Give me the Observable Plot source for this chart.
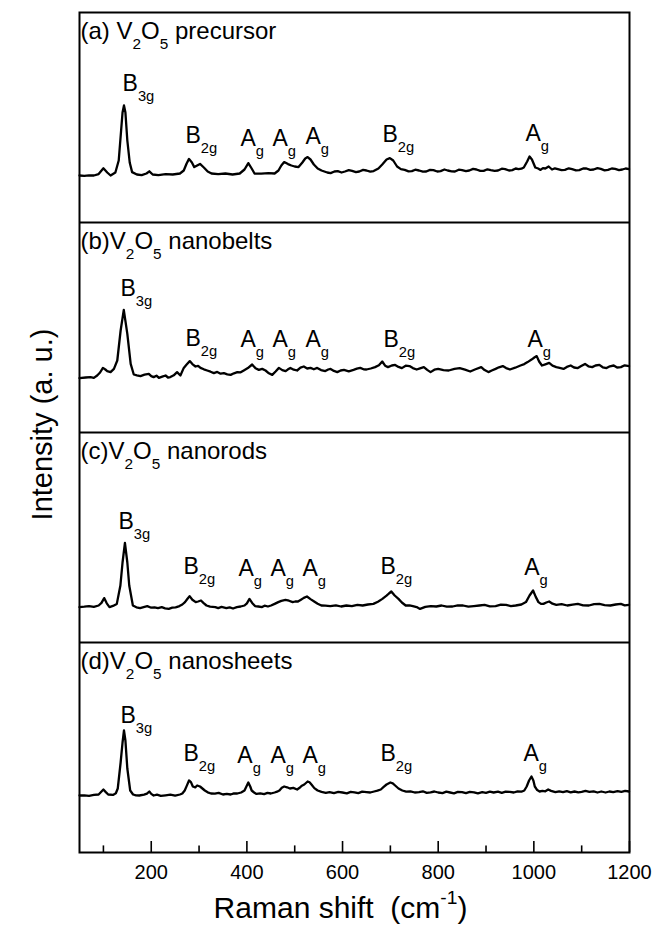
<!DOCTYPE html>
<html><head><meta charset="utf-8">
<script src="https://cdn.jsdelivr.net/npm/d3@7"></script>
<script src="https://cdn.jsdelivr.net/npm/@observablehq/plot@0.6"></script>
<style>body{margin:0;background:#fff}</style>
</head><body><div id="chart"></div>
<script>
// Raman shift (cm-1), intensity (a.u., within-panel units)
const precursor = [[50,23.5],[60,23.3],[70,23.6],[80,23.5],[90,24.2],[100,27.1],[108,25],[115,23.5],[125,25],[132,31],[137,46],[140,55],[143,58.5],[146,55],[150,41],[155,30],[160,25.2],[170,24],[180,23.7],[190,24.5],[196,25.6],[203,24],[215,23.7],[230,24.2],[245,24],[260,24.5],[268,26],[274,29.5],[279,31.8],[285,30],[290,27.7],[296,28.5],[302,29.3],[310,27.5],[318,25.5],[326,24.5],[340,24.2],[355,24.5],[370,24],[385,24.5],[395,26.5],[403,29.7],[410,27],[416,24.5],[430,24.4],[445,24.7],[458,24.5],[466,26],[472,28.5],[478,30.2],[486,29.2],[493,28.5],[500,28],[508,27.7],[516,30],[522,32],[527,32.7],[533,31.5],[540,29],[548,27],[556,26],[568,25],[575,24.7],[583,25.5],[590,25.7],[598,25],[605,25.5],[613,26.2],[620,25.8],[628,25.2],[635,25.5],[643,26.3],[650,26],[658,25.4],[665,25.7],[675,27],[683,29],[692,31.5],[699,32.2],[706,31],[714,28],[722,26.7],[730,26.3],[738,25.6],[745,25.7],[752,26.4],[760,26],[768,25.4],[775,25.5],[783,26.3],[790,26.2],[798,25.5],[805,25.7],[813,26.5],[820,26],[828,25.6],[835,25.5],[843,26.4],[850,26.2],[858,25.7],[865,26],[873,26.8],[880,26.5],[888,25.8],[895,25.8],[903,26.6],[910,26.2],[918,25.8],[925,26],[933,26.9],[940,26.7],[948,26],[955,26.2],[962,27],[968,26.7],[974,26.9],[979,27.5],[986,30.5],[991,33],[996,31.5],[1003,27.5],[1009,27],[1014,26.3],[1019,27.2],[1024,27],[1031,28],[1038,26.5],[1044,27.1],[1050,26.7],[1058,26.2],[1065,26.3],[1073,27.1],[1080,26.7],[1088,26.1],[1095,26.2],[1103,27],[1110,27],[1118,26.3],[1125,26.5],[1133,27.2],[1140,26.8],[1148,26.1],[1155,26.3],[1163,27],[1170,26.8],[1178,26.2],[1185,26.5],[1192,27],[1199,26.7]];
const nanobelts = [[50,27.2],[63,27.5],[73,27.7],[80,27.3],[87,28.5],[93,30],[99,32.3],[104,31.5],[108,30.7],[115,30.2],[122,31.8],[129,36],[136,51],[142.6,61.3],[150,49.3],[157,34.3],[163.5,29],[170,28.6],[177.5,28.2],[186,28.9],[195,29.3],[200,28.2],[205,27.7],[211,28.4],[216,27.3],[223,27.9],[230,28.5],[235,27.5],[240,27.7],[247,28.6],[254,30.2],[261,28.5],[268,32.3],[274,34],[280.6,35.7],[286,34.2],[292.5,33],[298,33.3],[303,32.3],[310,31.6],[317,31],[324,30.4],[331,29.7],[338,30.3],[345,29.4],[352,29.7],[359,29.1],[366,28.8],[373,29.6],[380,30.2],[387,30.1],[393.5,31],[402,32.2],[411,34],[418,32.1],[425,31.3],[432,31.8],[439,31],[446,29.6],[453,28.8],[460,30.5],[467,32.3],[474,31.2],[481,30.7],[486,31.6],[491,32.3],[498,31.4],[505,31],[512,32.4],[519,33],[526,32],[533,32.3],[540,31.6],[547,32.3],[555,31.2],[564,30.7],[570,31.5],[575,31.8],[582,30.8],[589,30.2],[596,31],[603,31.3],[613,30.6],[623,31.3],[630,31.9],[637,32.3],[644,31.6],[650,31.5],[659,32],[668,32.7],[676,33.6],[683,35.5],[689,33.4],[695,32.7],[703,33.5],[710,33.8],[717,32.8],[724,32.2],[732,33.4],[740,33.2],[747,32.2],[755,31.5],[762,32.1],[770,32.7],[777,31.3],[784,30.2],[792,31.4],[800,31.8],[811,31.2],[822,31],[834,31.8],[845,32.2],[856,31.4],[867,30.5],[878,31.6],[890,32.7],[897,31.2],[905,30.2],[912,31],[920,31.8],[927,32.6],[935,33.2],[942,32.2],[950,31.5],[961,32.4],[972,33.5],[980,34.2],[987,35.2],[996,36.6],[1001,37.5],[1006,38.2],[1011,35.5],[1017,33.5],[1024,34.1],[1032,34.8],[1039,33.4],[1047,32.7],[1054,32.3],[1062,31.8],[1069,32.8],[1077,33.5],[1084,32.5],[1092,32.2],[1099,33.2],[1107,34.3],[1114,33.1],[1122,32.7],[1129,33.5],[1137,33.8],[1144,32.6],[1152,32.2],[1159,33.1],[1167,33.5],[1174,32.5],[1182,32.7],[1190,33.6],[1199,33.2]];
const nanorods = [[50,17.7],[60,17.9],[70,18.2],[80,17.8],[90,18.5],[96,19.8],[101.6,22.2],[107,19.6],[112.7,17.7],[120,18.3],[128,19.3],[135.5,28.5],[140,40],[145,49.8],[150,40],[154,28.5],[161.6,18.5],[169,17.6],[176.7,17.2],[184,17.7],[191.7,18.2],[200,17.4],[207,17.6],[214,17.2],[222,17.7],[229,17.1],[236.7,16.8],[244,17.4],[251,17.6],[259,18.2],[265,19],[270.6,20.2],[275,21.6],[280.2,23.2],[286,21.4],[293,20.2],[298,20.5],[304,21],[309,19.8],[315.5,18.5],[323,17.9],[334,17.7],[340,17.2],[347,17.8],[357,17.2],[364,17.6],[371,17],[379,17.7],[387,18],[395,18.5],[400,19.6],[405.4,21.8],[411,19.8],[417,18.2],[424,18],[431.7,17.7],[437,18.4],[444,18],[450.5,18.5],[458,19.3],[465.6,20.2],[472,20.8],[480.7,21.3],[488,20.9],[495.7,20.2],[501,20.5],[506.8,20.5],[513,21.4],[519,22.3],[525.6,23],[533,21.7],[540.7,20.5],[548,19.4],[555.8,18.5],[564,18.4],[574.4,18.2],[586,18.6],[597,18],[608,18.5],[619.5,18.2],[631,18.8],[642,18.5],[653,19],[664.5,19.3],[674,20.4],[683.3,21.8],[692,23.4],[697,24.5],[702,25.5],[709,23.5],[717,21.8],[724,20],[732,18.5],[740,18.6],[747,18.2],[755,17.7],[762,16.8],[773,17.8],[784.5,18.2],[796,18],[807,18.5],[818,17.9],[830,18],[841,18.6],[852,18.5],[863,17.9],[874.5,18.2],[886,18.5],[897,18.8],[908,18.1],[920,18.2],[931,18.9],[942,18.8],[952,18.2],[962,18.5],[974,19],[983.5,20.2],[991,23.5],[998.4,26],[1004,22.8],[1009.6,20.2],[1015,19.3],[1020,19.3],[1026,20],[1032,20.5],[1039,19.4],[1047,18.8],[1058,19.2],[1070,18.5],[1081,18.9],[1092,19.3],[1103,18.6],[1115,18.5],[1126,19.2],[1137,19.3],[1148,18.7],[1160,18.5],[1171,19],[1182,19.3],[1190,18.6],[1199,18.8]];
const nanosheets = [[50,28.5],[60,28.6],[70,28.3],[80,28.8],[90,29],[96,30.5],[100,31.5],[105,30.2],[110,29],[120,28.8],[126,29.6],[130,32],[136,45],[140,55],[143,61],[146,56],[150,42],[156,31],[162,29],[168,28.6],[175,28.5],[185,28.9],[191,29.4],[196,30.5],[200,29.3],[205,28.5],[212,28.9],[220,28.3],[230,28.6],[240,28.9],[250,28.4],[260,29],[265,29.5],[270,31],[274,33.2],[279,36],[283,35.2],[287,33],[292,32.6],[296,33.5],[302,33],[307,32],[312,31],[318,30.1],[325,29.5],[333,29.4],[341,29.8],[350,29],[358,29.3],[366,29],[373,29.6],[380,29.5],[388,30],[395,31],[399,33],[403,35],[407,33],[410,31],[415,30],[420,29.3],[428,29.6],[436,29.2],[443,29.8],[450,29.5],[458,30],[463,30.4],[468,31],[473,32.4],[478,33],[484,32.6],[490,32],[497,32.3],[505,31.5],[511,32.5],[515,33.4],[520,34],[527,35.5],[531,35.1],[535,34],[541,32.2],[548,31],[556,30.3],[565,29.8],[573,30.2],[582,29.7],[591,30.3],[600,30],[609,29.6],[617,30.3],[625,30.1],[633,29.7],[641,30.4],[650,30.2],[658,30],[666,30.5],[673,30.9],[680,31.5],[686,32.8],[692,34],[700,35],[705,34.6],[710,33.5],[717,32],[725,31],[733,30.4],[742,30.6],[751,30],[760,30.2],[768,30.6],[776,29.8],[784,30.1],[792,30.5],[800,30],[809,29.7],[817,30.4],[825,30],[833,29.6],[841,30.3],[850,30.2],[858,29.7],[866,30.3],[875,30.1],[883,29.6],[892,30.2],[900,29.8],[908,30.4],[916,30],[925,30.4],[933,29.8],[941,30.4],[950,30.3],[958,30],[966,30.6],[974,30.4],[980,31],[985,33],[990,36],[995,38],[999,36],[1002,33],[1007,31.2],[1012,30.5],[1018,30.8],[1024,30.6],[1030,31.5],[1036,30.8],[1045,30.2],[1053,30.6],[1061,30.2],[1069,30.7],[1077,30.1],[1085,30.5],[1093,30.1],[1100,30.3],[1108,30.8],[1116,30.3],[1125,30.6],[1133,30],[1141,30.5],[1150,30],[1158,30.5],[1166,30.2],[1175,30.7],[1183,30.3],[1191,30.8],[1199,30.5]];

const panels = ["a", "b", "c", "d"];
const series = [precursor, nanobelts, nanorods, nanosheets];
const titles = ["(a) V_{2}O_{5} precursor", "(b)V_{2}O_{5} nanobelts", "(c)V_{2}O_{5} nanorods", "(d)V_{2}O_{5} nanosheets"];
const modeNames = ["B_{3g}", "B_{2g}", "A_{g}", "A_{g}", "A_{g}", "B_{2g}", "A_{g}"];
// label anchor positions (Raman shift, intensity) per panel
const labelShift = [
  [140, 271.6, 386.6, 453.5, 522.5, 683.5, 982.5],
  [135.7, 271.6, 386.6, 453.5, 522.5, 685.6, 986.7],
  [131.5, 267.4, 382.4, 449.3, 516.2, 679.3, 979.8],
  [135.7, 267.4, 380, 449.3, 516.2, 679.3, 978.3]
];
const labelIntensity = [
  [66, 40, 38.5, 38.5, 39.3, 40.2, 41],
  [68.5, 43.5, 42.7, 42.7, 42.7, 43, 43],
  [57, 34.5, 33.5, 33.5, 33.5, 34.5, 34],
  [65, 46, 45, 45, 45, 46, 46]
];
const majorTicks = [200, 400, 600, 800, 1000, 1200];
const minorTicks = [100, 300, 500, 700, 900, 1100];

const PANEL = 105; // intensity span of one panel
const offset = i => (panels.length - 1 - i) * PANEL;

const lineData = series.flatMap((s, i) => s.map(([x, y]) => ({panel: panels[i], x, y: y + offset(i)})));
const labelData = labelShift.flatMap((row, i) => row.map((x, j) => ({x, y: labelIntensity[i][j] + offset(i), text: modeNames[j]})));
const titleData = titles.map((t, i) => ({text: t, x: 50, y: offset(i) + PANEL - 13}));
const separators = [1, 2, 3].map(k => k * PANEL);

const font = "'Liberation Sans', Arial, Helvetica, sans-serif";

const chart = Plot.plot({
  width: 652,
  height: 926,
  marginTop: 12,
  marginBottom: 74,
  marginLeft: 79,
  marginRight: 23,
  style: {fontFamily: font, fontSize: "20px", color: "#000", background: "#fff"},
  x: {domain: [50, 1200]},
  y: {domain: [0, 4 * PANEL], axis: null},
  marks: [
    Plot.ruleY(separators, {stroke: "#000", strokeWidth: 2}),
    Plot.frame({stroke: "#000", strokeWidth: 2}),
    Plot.ruleX(majorTicks, {x: d => d, y1: 0, y2: 5.5, stroke: "#000", strokeWidth: 1.6}),
    Plot.ruleX(minorTicks, {x: d => d, y1: 0, y2: 3.3, stroke: "#000", strokeWidth: 1.6}),
    Plot.axisX({ticks: majorTicks, tickSize: 0, tickPadding: 12, fontSize: 20, label: null, tickFormat: d => String(d)}),
    Plot.line(lineData, {x: "x", y: "y", z: "panel", stroke: "#000", strokeWidth: 2.3, strokeLinejoin: "round"}),
    Plot.text(titleData, {x: "x", y: "y", text: "text", textAnchor: "start", lineAnchor: "bottom", dx: 1, fontSize: 24, fill: "#000"}),
    Plot.text(labelData, {x: "x", y: "y", text: "text", textAnchor: "start", lineAnchor: "bottom", fontSize: 23, fill: "#000"}),
    Plot.text(["Intensity (a. u.)"], {frameAnchor: "left", textAnchor: "middle", rotate: -90, dx: -37, dy: -8, fontSize: 29, fill: "#000"}),
    Plot.text(["Raman shift\u00a0 (cm^{-1})"], {frameAnchor: "bottom", textAnchor: "middle", lineAnchor: "bottom", dx: -14, dy: 65, fontSize: 30, fill: "#000"})
  ]
});

document.getElementById("chart").appendChild(chart);

// turn _{..} / ^{..} markup into real subscript / superscript tspans
d3.select(chart).selectAll("text").each(function () {
  const s = this.textContent;
  if (!/[_^]\{/.test(s)) return;
  const size = parseFloat(getComputedStyle(this).fontSize) || 20;
  const parts = [];
  const re = /([_^])\{([^}]*)\}/g;
  let last = 0, m;
  while ((m = re.exec(s))) {
    if (m.index > last) parts.push({t: s.slice(last, m.index), k: ""});
    parts.push({t: m[2], k: m[1]});
    last = re.lastIndex;
  }
  if (last < s.length) parts.push({t: s.slice(last), k: ""});
  this.textContent = "";
  let shift = 0;
  for (const p of parts) {
    const ts = d3.select(this).append("tspan").text(p.t);
    const target = p.k === "_" ? size * 0.45 : p.k === "^" ? -size * 0.45 : 0;
    if (target !== shift) ts.attr("dy", target - shift);
    shift = target;
    if (p.k) ts.attr("font-size", size * 0.64);
  }
});
</script></body></html>
